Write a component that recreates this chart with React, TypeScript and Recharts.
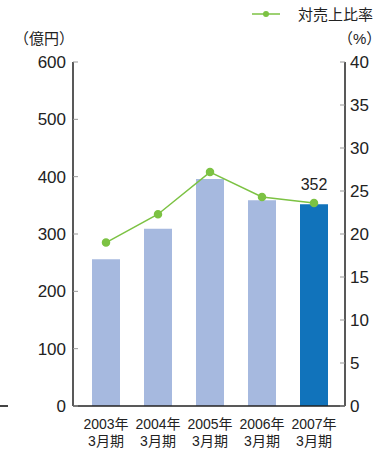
import { ComposedChart, Bar, Line, XAxis, YAxis, Cell, LabelList } from 'recharts';

const FONT = '"Liberation Sans", "Noto Sans CJK JP", sans-serif';

// 売上高（億円）と対売上比率（%）
const fiscalYears = ['2003年', '2004年', '2005年', '2006年', '2007年'];
const periodLabel = '3月期';
const sales = [256, 309, 396, 359, 352];
const salesRatio = [19.0, 22.3, 27.2, 24.3, 23.6];
const leftTicks = [0, 100, 200, 300, 400, 500, 600];
const rightTicks = [0, 5, 10, 15, 20, 25, 30, 35, 40];

const data = fiscalYears.map((year, i) => ({ year, sales: sales[i], ratio: salesRatio[i] }));

const BAR_LIGHT = '#a6b9df';
const BAR_DARK = '#1173bb';
const GREEN = '#7cc243';
const AXIS_COLOR = '#222';

const YearTick = ({ x, y, payload }: any) => (
  <text x={x} y={y} textAnchor="middle" fontSize={14} fill="#222" fontFamily={FONT}>
    <tspan x={x} dy={15}>{payload.value}</tspan>
    <tspan x={x} dy={17}>{periodLabel}</tspan>
  </text>
);

// only the latest year gets its value printed above the bar
const LatestLabel = ({ x, y, width, value, index }: any) =>
  index === data.length - 1 ? (
    <text x={x + width / 2} y={y - 14} textAnchor="middle" fontSize={16} fill="#222" fontFamily={FONT}>
      {value}
    </text>
  ) : null;

export default function App() {
  return (
    <div style={{ position: 'absolute', left: 0, top: 0, width: 392, height: 453, background: '#fff', fontFamily: FONT }}>
      <ComposedChart width={392} height={453} data={data} margin={{ top: 62, right: 0, bottom: 0, left: 0 }}>
        <XAxis dataKey="year" xAxisId="x" height={47} padding={{ left: 7, right: 5 }}
          axisLine={{ stroke: AXIS_COLOR, strokeWidth: 1.5 }} tickLine={false} tick={<YearTick />} interval={0} />
        <YAxis yAxisId="left" orientation="left" width={73} domain={[0, 600]} ticks={leftTicks}
          axisLine={{ stroke: AXIS_COLOR, strokeWidth: 1.5 }} tickLine={{ stroke: '#999' }} tickSize={-5} tickMargin={12}
          tick={{ fontSize: 17, fill: '#222', fontFamily: FONT }} />
        <YAxis yAxisId="right" orientation="right" width={47} domain={[0, 40]} ticks={rightTicks}
          axisLine={{ stroke: AXIS_COLOR, strokeWidth: 1.5 }} tickLine={{ stroke: '#999' }} tickSize={-5} tickMargin={10}
          tick={{ fontSize: 17, fill: '#222', fontFamily: FONT }} />
        <Bar dataKey="sales" xAxisId="x" yAxisId="left" barSize={28} isAnimationActive={false}>
          {data.map((_, i) => (
            <Cell key={i} fill={i === data.length - 1 ? BAR_DARK : BAR_LIGHT} />
          ))}
          <LabelList dataKey="sales" content={<LatestLabel />} />
        </Bar>
        <Line dataKey="ratio" xAxisId="x" yAxisId="right" stroke={GREEN} strokeWidth={1.5}
          dot={{ r: 3.5, fill: GREEN, stroke: GREEN }} isAnimationActive={false} />
      </ComposedChart>

      <div style={{ position: 'absolute', left: 14, top: 27, fontSize: 15, color: '#222' }}>（億円）</div>
      <div style={{ position: 'absolute', left: 338, top: 27, fontSize: 15, color: '#222' }}>（%）</div>

      <div style={{ position: 'absolute', left: 251, top: 3, display: 'flex', alignItems: 'center', fontSize: 15, color: '#222' }}>
        <svg width={30} height={18}>
          <line x1={1} y1={9} x2={29} y2={9} stroke={GREEN} strokeWidth={1.5} />
          <circle cx={15} cy={9} r={3} fill={GREEN} />
        </svg>
        <span style={{ marginLeft: 17 }}>対売上比率</span>
      </div>

      <div style={{ position: 'absolute', left: 0, top: 405, width: 8, height: 1.5, background: '#444' }} />
    </div>
  );
}
